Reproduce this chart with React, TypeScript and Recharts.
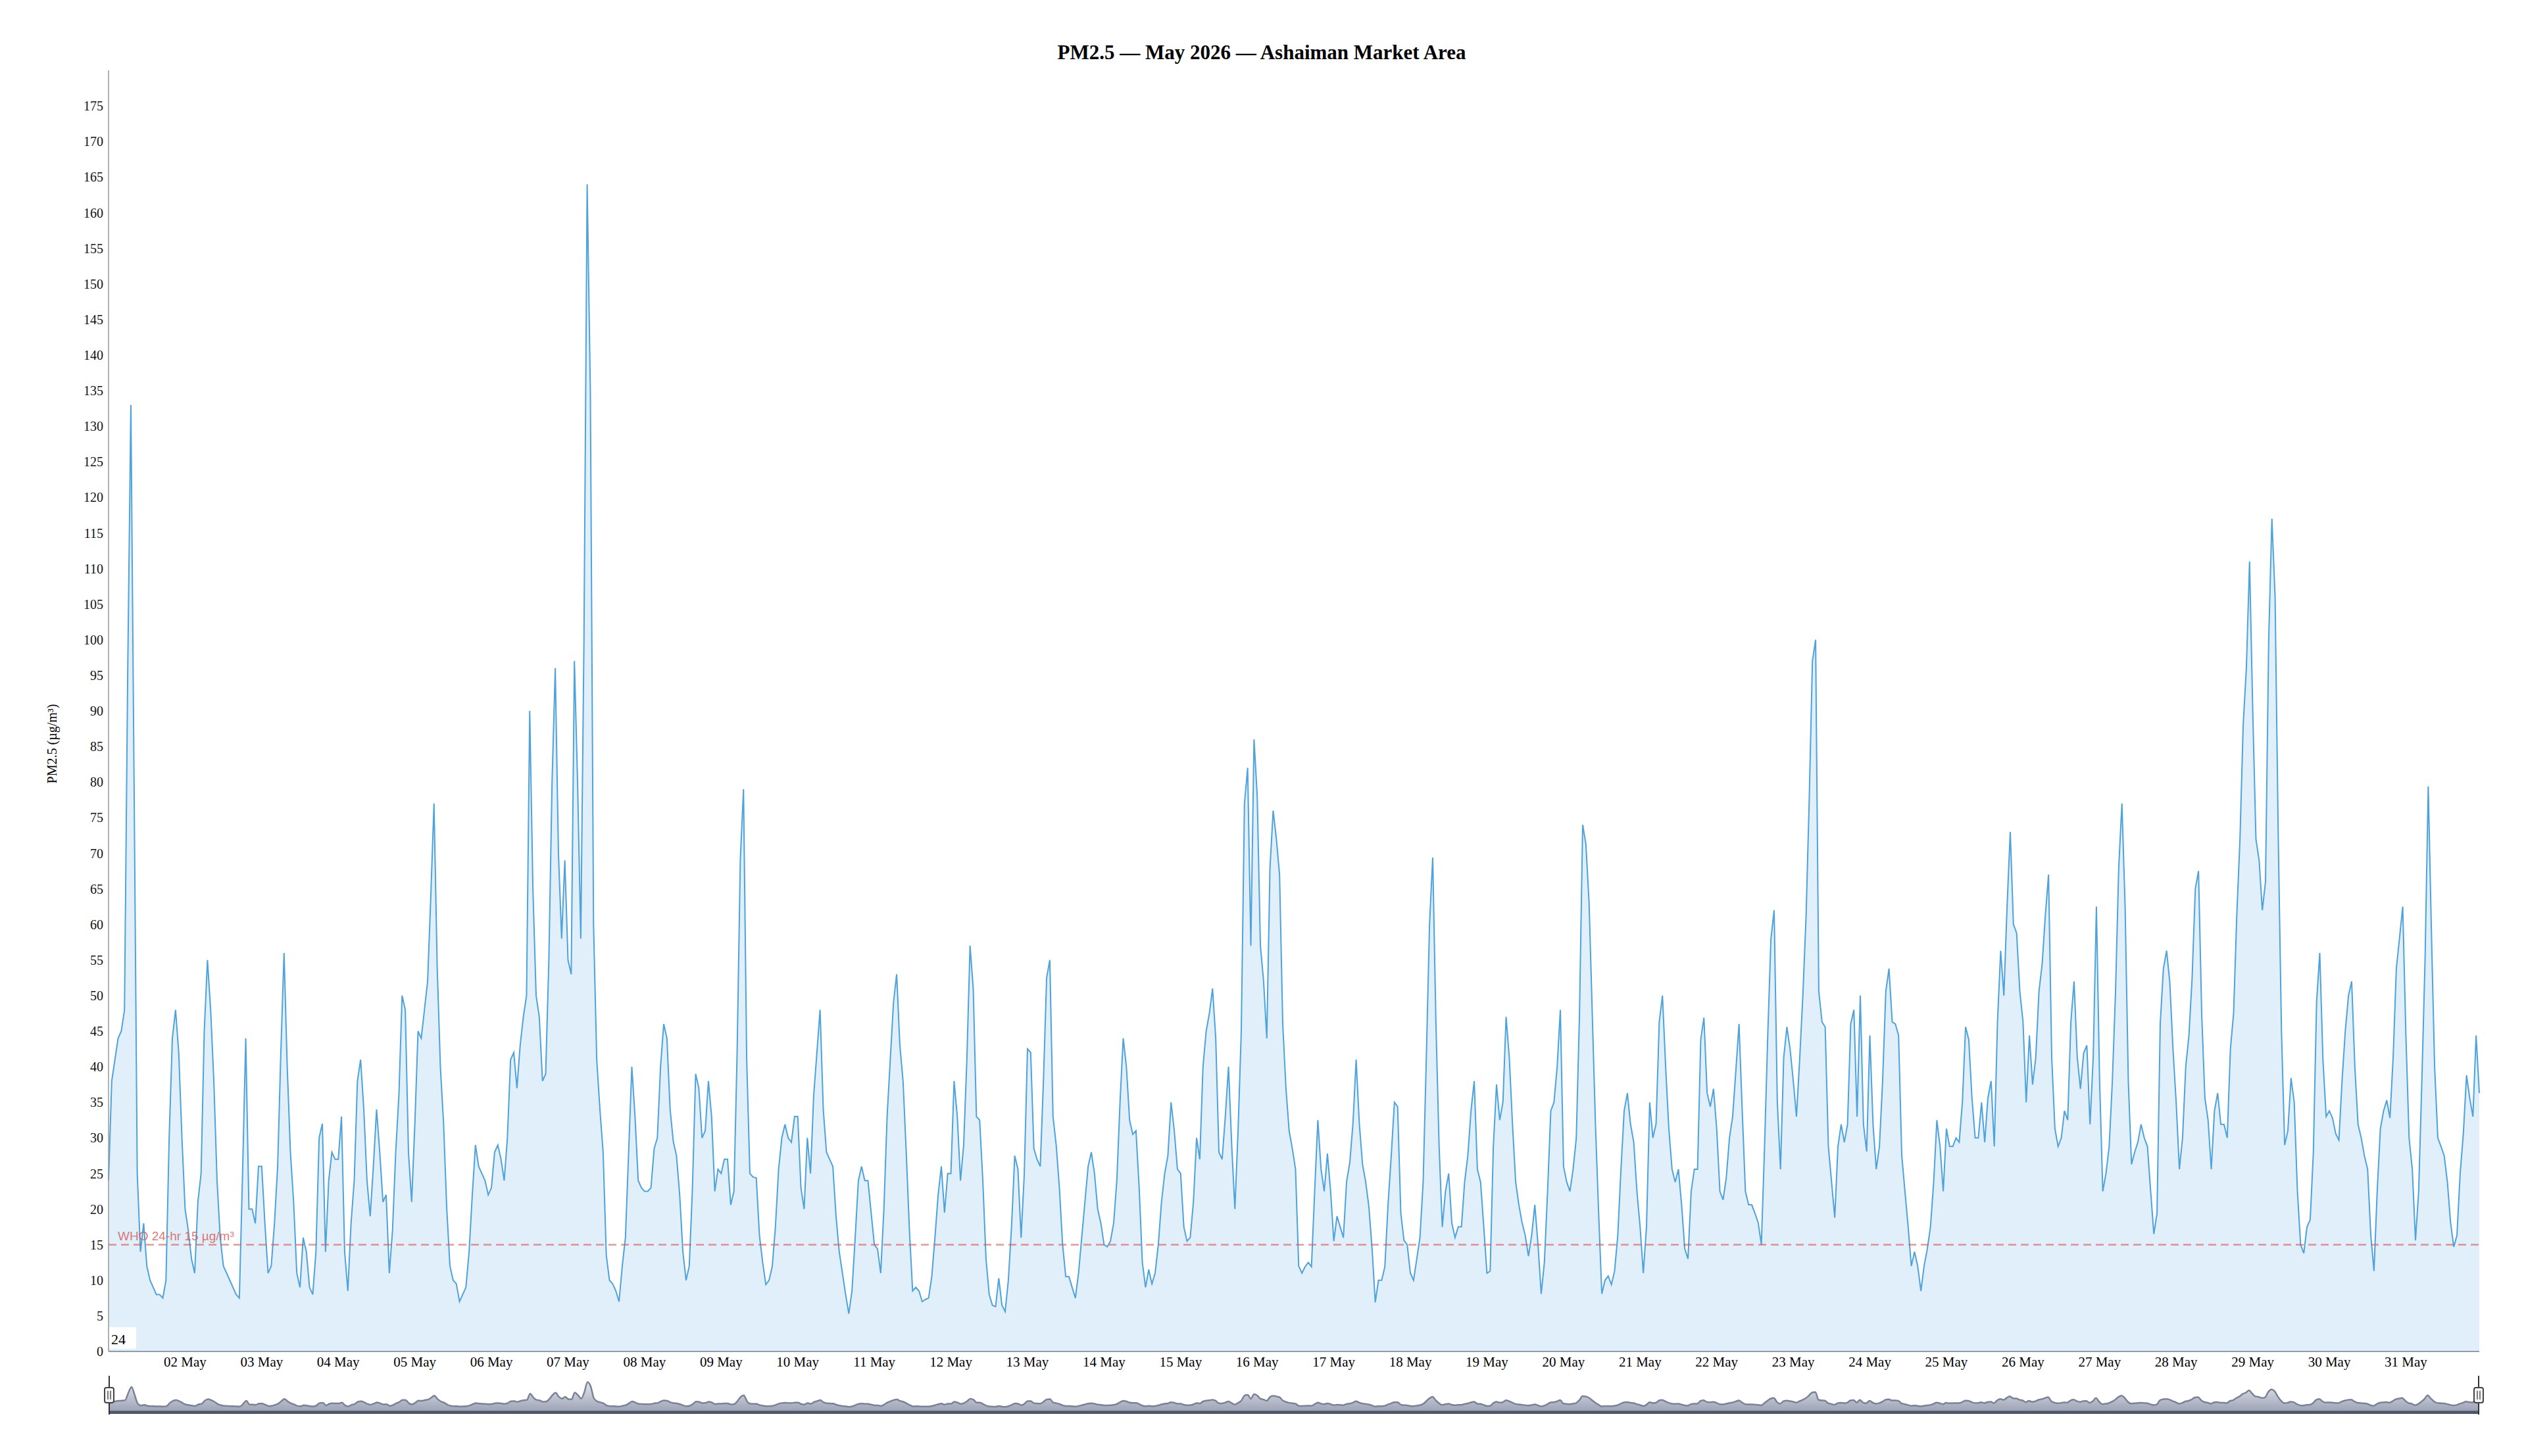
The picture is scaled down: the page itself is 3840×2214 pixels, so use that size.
import React from "react";
import {
  AreaChart,
  Area,
  XAxis,
  YAxis,
  ReferenceLine,
  Brush,
} from "recharts";

// hourly PM2.5 readings, one row per day
const may01to07 = [
  24, 38, 41, 44, 45, 48, 95, 133, 80, 25, 14, 18, 12, 10, 9, 8, 8, 7.5, 10, 30, 44, 48, 42, 30,
  20, 17, 13, 11, 21, 25, 45, 55, 48, 38, 24, 16, 12, 11, 10, 9, 8, 7.5, 25, 44, 20, 20, 18, 26,
  26, 18, 11, 12, 18, 26, 42, 56, 40, 28, 21, 11, 9, 16, 14, 9, 8, 14, 30, 32, 14, 24, 28, 27,
  27, 33, 14, 8.5, 18, 24, 38, 41, 34, 24, 19, 26, 34, 28, 21, 22, 11, 17, 28, 36, 50, 48, 28, 21,
  32, 45, 44, 48, 52, 64, 77, 54, 40, 32, 20, 12, 10, 9.5, 7, 8, 9, 14, 22, 29, 26, 25, 24, 22,
  23, 28, 29, 27, 24, 30, 41, 42, 37, 43, 47, 50, 90, 65, 50, 47, 38, 39, 55, 80, 96, 70, 58, 69,
  55, 53, 97, 80, 58, 100, 164, 135, 60, 41, 34, 28, 13.5, 10, 9.5, 8.5, 7, 12, 16, 28, 40, 33, 24, 23,
];

const may08to14 = [
  22.5, 22.5, 23, 28.5, 30, 40, 46, 44, 34, 29.5, 27.5, 22, 14, 10, 12, 23, 39, 37, 30, 31, 38, 33, 22.5, 25.6,
  25, 27, 27, 20.6, 22.5, 42, 69, 79, 41, 25, 24.5, 24.4, 16.3, 12.5, 9.4, 10, 11.9, 17.5, 25.6, 30, 31.9, 30, 29.4, 33,
  33, 23, 20, 30, 25, 36, 42, 48, 34, 28, 27, 26, 19, 14, 11, 8, 5.3, 8.5, 16, 24, 26, 24, 24, 19.5,
  15, 14.4, 11, 20, 33, 41, 49, 53, 43, 38, 28, 17, 8.5, 9, 8.5, 7, 7.3, 7.5, 10.5, 16, 22, 26, 19.5, 25,
  25, 38, 33, 24, 29, 41, 57, 51, 33, 32.5, 24, 13, 8, 6.5, 6.3, 10.3, 6.5, 5.6, 10, 17.5, 27.5, 25.6, 16, 25,
  42.5, 42, 28.5, 27, 26, 38, 52.5, 55, 33, 29, 23, 15, 10.5, 10.5, 9, 7.5, 11, 16, 21, 26, 28, 25, 20, 18,
  15, 14.7, 15.5, 18, 24, 35, 44, 40, 32.5, 30.5, 31, 23, 12.5, 9, 11.5, 9.5, 11, 15, 21, 25, 27.5, 35, 31, 25.6,
];

const may15to21 = [
  25, 17.5, 15.5, 16, 21, 30, 27, 40, 45, 47.5, 51, 44, 28, 27, 33, 40, 29, 20, 31, 45, 77, 82, 57, 86,
  78, 57, 52, 44, 68, 76, 72, 67, 46, 37, 31, 28.5, 25.6, 12, 11, 11.9, 12.5, 11.9, 22.5, 32.5, 25.6, 22.5, 27.8, 22.5,
  15.5, 19, 17.5, 16, 23.8, 26.5, 32, 41, 32, 26.3, 23.8, 20.3, 14.4, 6.9, 10, 10, 11.9, 20.6, 27.5, 35, 34.4, 19.4, 15.6, 15,
  11, 10, 13, 16, 23.8, 41.3, 60, 69.4, 46.3, 28.8, 17.5, 22.5, 25, 18, 16, 17.5, 17.5, 23.8, 27.5, 33.8, 38, 25.6, 23.8, 17.5,
  11, 11.3, 28.8, 37.5, 32.5, 35, 47, 41.3, 31.9, 23.8, 20.6, 18.1, 16.3, 13.4, 16.3, 20.6, 15, 8.1, 12.5, 22.5, 33.8, 35, 40, 48,
  26, 23.8, 22.5, 25.6, 30, 47.5, 74, 71.3, 63.1, 47.5, 31.9, 19.4, 8.1, 10, 10.6, 9.4, 11.3, 16.3, 25.6, 33.8, 36.3, 31.9, 29.4, 22.5,
  17.5, 11, 17.5, 35, 30, 32, 46.3, 50, 40, 31.3, 25.6, 23.8, 25.6, 20.6, 14.4, 13, 22.5, 25.6, 25.6, 43.8, 46.9, 36.3, 34.4, 36.9,
];

const may22to28 = [
  31.3, 22.5, 21.3, 24.4, 30, 33, 39.4, 46, 33.8, 22.5, 20.6, 20.6, 19.4, 18.1, 15, 28.8, 44.4, 58, 62, 35, 25.6, 41.3, 45.6, 42.5,
  38, 33, 41, 50, 61, 77.5, 97, 100, 50.6, 46.3, 45.6, 28.8, 23.8, 18.8, 28.8, 31.9, 29.4, 31.9, 46, 48, 33, 50, 31.9, 28.1,
  44.4, 31.9, 25.6, 28.8, 38, 50.6, 53.8, 46.3, 46, 44.4, 27.5, 22.5, 17.5, 12, 14, 12, 8.5, 12, 14.4, 17.5, 23.8, 32.5, 28.8, 22.5,
  31.3, 28.8, 28.8, 30, 29.4, 35, 45.6, 43.8, 35.6, 30, 30, 35, 29.4, 35.6, 38, 28.8, 46.3, 56.3, 50, 62.5, 73, 60, 58.8, 50.6,
  46.3, 35, 44.4, 37.5, 41.3, 50.6, 54.4, 61.3, 67, 41.3, 31.3, 28.8, 30, 33.8, 32.5, 46.3, 52, 41.3, 36.9, 41.9, 43, 31.9, 41.3, 62.5,
  38.1, 22.5, 25, 28.8, 38, 50.6, 68, 77, 62.5, 38, 26.3, 28, 29.4, 31.9, 30, 28.8, 22.5, 16.5, 19.4, 46, 53.8, 56.3, 51.9, 42.5,
  35, 25.6, 30, 40, 44.4, 52.5, 65, 67.5, 47.5, 35.6, 32.5, 25.6, 33.8, 36.3, 31.9, 31.9, 30, 42.5, 47.5, 61.3, 72, 88, 96, 111,
];

const may29to31 = [
  90, 72, 69, 62, 66, 100, 117, 106, 72, 45, 29, 31, 38.4, 35, 22.5, 15, 13.8, 17.5, 18.5, 28, 49, 56, 41, 33,
  33.8, 32.8, 30.6, 29.7, 38.1, 45, 50, 52, 40, 31.9, 30, 27.5, 25.6, 16.3, 11.3, 22.5, 31.3, 33.8, 35.3, 32.8, 41.3, 53.8, 58.1, 62.5,
  44.4, 30, 25.6, 15.6, 22.5, 38, 55, 79.4, 58.8, 40, 30, 28.8, 27.5, 23.8, 18.1, 14.7, 16.3, 25, 30.6, 38.8, 35.6, 33, 44.4, 36.3,
];

const dayLabels = [
  "01 May", "02 May", "03 May", "04 May", "05 May", "06 May", "07 May", "08 May",
  "09 May", "10 May", "11 May", "12 May", "13 May", "14 May", "15 May", "16 May",
  "17 May", "18 May", "19 May", "20 May", "21 May", "22 May", "23 May", "24 May",
  "25 May", "26 May", "27 May", "28 May", "29 May", "30 May", "31 May",
];

const yTicks = [
  0, 5, 10, 15, 20, 25, 30, 35, 40, 45, 50, 55, 60, 65, 70, 75, 80, 85, 90,
  95, 100, 105, 110, 115, 120, 125, 130, 135, 140, 145, 150, 155, 160, 165, 170, 175,
];

const whoLimit = 15;

const hourly = [...may01to07, ...may08to14, ...may15to21, ...may22to28, ...may29to31];
const data = hourly.map((pm25, h) => ({ h, pm25 }));
const dayTicks = dayLabels.slice(1).map((_, i) => (i + 1) * 24);

const serif = "'Liberation Serif', 'Times New Roman', serif";

function WhoLabel({ viewBox }: any) {
  if (!viewBox) return null;
  return (
    <text
      x={viewBox.x + 14}
      y={viewBox.y - 7}
      fill="#d9534f"
      fillOpacity={0.8}
      fontSize={19}
      fontFamily="'Liberation Sans', Arial, sans-serif"
    >
      WHO 24-hr 15 µg/m³
    </text>
  );
}

function Traveller(p: any) {
  const cx = p.x + p.width / 2;
  const top = p.y + 18;
  return (
    <g>
      <line x1={cx} y1={p.y} x2={cx} y2={p.y + p.height} stroke="#333" strokeWidth={2} />
      <rect x={cx - 7} y={top} width={14} height={23} rx={3} fill="#f4f4f4" stroke="#444" strokeWidth={2} />
      <line x1={cx - 2} y1={top + 5} x2={cx - 2} y2={top + 18} stroke="#555" strokeWidth={1.5} />
      <line x1={cx + 2} y1={top + 5} x2={cx + 2} y2={top + 18} stroke="#555" strokeWidth={1.5} />
    </g>
  );
}

export default function App() {
  return (
    <div
      style={{
        position: "absolute",
        left: 0,
        top: 0,
        width: 3840,
        height: 2214,
        background: "#fff",
        fontFamily: serif,
      }}
    >
      <AreaChart
        width={3840}
        height={2214}
        data={data}
        margin={{ top: 107, right: 71, bottom: 63, left: 40 }}
      >
        <defs>
          <linearGradient id="brushFill" x1="0" y1="0" x2="0" y2="1">
            <stop offset="0%" stopColor="#e4e7ef" />
            <stop offset="90%" stopColor="#9ea4b6" />
            <stop offset="91%" stopColor="#50566a" />
            <stop offset="100%" stopColor="#50566a" />
          </linearGradient>
        </defs>
        <XAxis
          dataKey="h"
          type="number"
          domain={[0, hourly.length - 1]}
          ticks={dayTicks}
          tickFormatter={(h: number) => dayLabels[h / 24]}
          interval={0}
          tickLine={false}
          axisLine={{ stroke: "#8f9cab", strokeWidth: 2 }}
          tick={{ fontSize: 21, fill: "#000" }}
          height={37}
        />
        <YAxis
          domain={[0, 180]}
          ticks={yTicks}
          interval={0}
          width={125}
          tickLine={false}
          axisLine={{ stroke: "#999", strokeWidth: 1.5 }}
          tick={{ fontSize: 20, fill: "#111" }}
        />
        <Area
          type="linear"
          dataKey="pm25"
          stroke="#4ea3dc"
          strokeWidth={2}
          fill="#4aa3df"
          fillOpacity={0.17}
          dot={false}
          activeDot={false}
          isAnimationActive={false}
        />
        <ReferenceLine
          y={whoLimit}
          stroke="#d9534f"
          strokeOpacity={0.6}
          strokeWidth={2.5}
          strokeDasharray="12 7"
          label={<WhoLabel />}
        />
        <Brush
          dataKey="h"
          height={59}
          y={2092}
          travellerWidth={2}
          fill="#fff"
          stroke="none"
          traveller={(p: any) => <Traveller {...p} />}
          tickFormatter={() => ""}
        >
          <AreaChart data={data}>
            <YAxis yAxisId="pano" hide domain={[-40, 200]} />
            <Area
              yAxisId="pano"
              type="monotone"
              dataKey="pm25"
              stroke="#7b8298"
              strokeWidth={2.5}
              fill="url(#brushFill)"
              fillOpacity={1}
              baseValue="dataMin"
              dot={false}
              isAnimationActive={false}
            />
          </AreaChart>
        </Brush>
      </AreaChart>
      <svg
        width={3840}
        height={2214}
        style={{ position: "absolute", left: 0, top: 0, pointerEvents: "none" }}
        fontFamily={serif}
      >
        <text x={1918} y={90} textAnchor="middle" fontSize={31} fontWeight="bold" fill="#000">
          PM2.5 — May 2026 — Ashaiman Market Area
        </text>
        <text
          x={79}
          y={1131}
          transform="rotate(-90 79 1131)"
          textAnchor="middle"
          dominantBaseline="central"
          fontSize={20}
          fill="#000"
        >
          PM2.5 (µg/m³)
        </text>
        <rect x={166} y={2018} width={41} height={33} fill="#fff" />
        <text x={169} y={2044} fontSize={22} fill="#000">
          24
        </text>
      </svg>
    </div>
  );
}
